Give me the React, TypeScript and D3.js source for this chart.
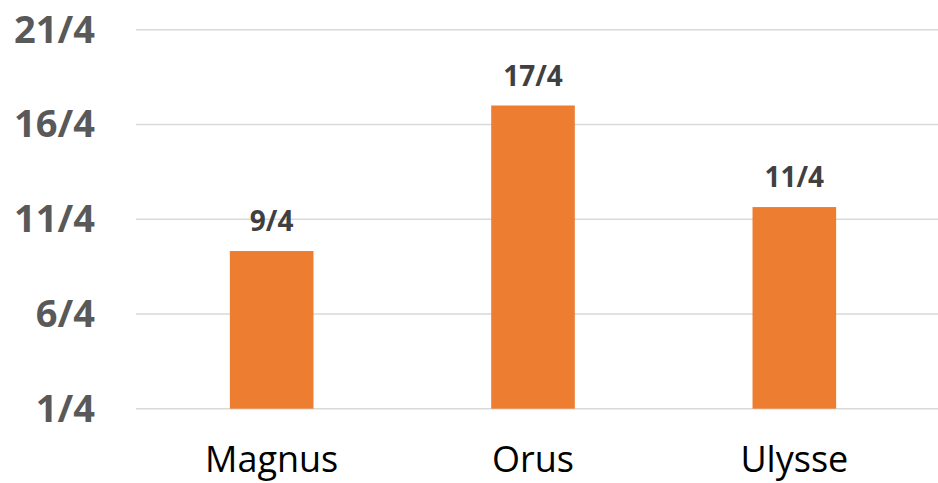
import { useEffect, useRef } from 'react';
import * as d3 from 'd3';

const categories = ['Magnus', 'Orus', 'Ulysse'];
const values = [2.33, 4.25, 2.91];
const valueLabels = ['9/4', '17/4', '11/4'];
const tickValues = [0.25, 1.5, 2.75, 4.0, 5.25];
const tickLabels = ['1/4', '6/4', '11/4', '16/4', '21/4'];

const WIDTH = 938;
const HEIGHT = 483;

export default function App() {
  const svgRef = useRef<SVGSVGElement>(null);

  useEffect(() => {
    if (!svgRef.current) return;
    const svg = d3.select(svgRef.current);
    svg.selectAll('*').remove();

    const font = '"Open Sans", Calibri, sans-serif';

    const x = d3.scaleBand<string>()
      .domain(categories)
      .range([141, 925])
      .paddingInner(0.68)
      .paddingOuter(0.34);

    const y = d3.scaleLinear()
      .domain([0.25, 5.25])
      .range([408.7, 29.7]);

    // gridlines
    svg.append('g')
      .selectAll('line')
      .data(tickValues)
      .enter()
      .append('line')
      .attr('x1', 136)
      .attr('x2', WIDTH)
      .attr('y1', d => y(d))
      .attr('y2', d => y(d))
      .attr('stroke', '#d9d9d9')
      .attr('stroke-width', 1.5);

    // y tick labels
    svg.append('g')
      .selectAll('text')
      .data(tickValues)
      .enter()
      .append('text')
      .attr('x', 95)
      .attr('y', d => y(d) + 13)
      .attr('text-anchor', 'end')
      .attr('font-family', font)
      .attr('font-weight', 700)
      .attr('font-size', 38)
      .attr('fill', '#595959')
      .text((_, i) => tickLabels[i]);

    // bars
    svg.append('g')
      .selectAll('rect')
      .data(values)
      .enter()
      .append('rect')
      .attr('x', (_, i) => x(categories[i]) as number)
      .attr('y', d => y(d))
      .attr('width', x.bandwidth())
      .attr('height', d => y(0.25) - y(d))
      .attr('fill', '#ED7D31');

    // value labels
    svg.append('g')
      .selectAll('text')
      .data(values)
      .enter()
      .append('text')
      .attr('x', (_, i) => (x(categories[i]) as number) + x.bandwidth() / 2)
      .attr('y', d => y(d) - 20)
      .attr('text-anchor', 'middle')
      .attr('font-family', font)
      .attr('font-weight', 700)
      .attr('font-size', 28)
      .attr('fill', '#404040')
      .text((_, i) => valueLabels[i]);

    // category labels
    svg.append('g')
      .selectAll('text')
      .data(categories)
      .enter()
      .append('text')
      .attr('x', d => (x(d) as number) + x.bandwidth() / 2)
      .attr('y', 472)
      .attr('text-anchor', 'middle')
      .attr('font-family', font)
      .attr('font-size', 36)
      .attr('fill', '#000000')
      .text(d => d);
  }, []);

  return (
    <svg
      ref={svgRef}
      width={WIDTH}
      height={HEIGHT}
      style={{ position: 'absolute', left: 0, top: 0, display: 'block', background: '#fff' }}
    />
  );
}
